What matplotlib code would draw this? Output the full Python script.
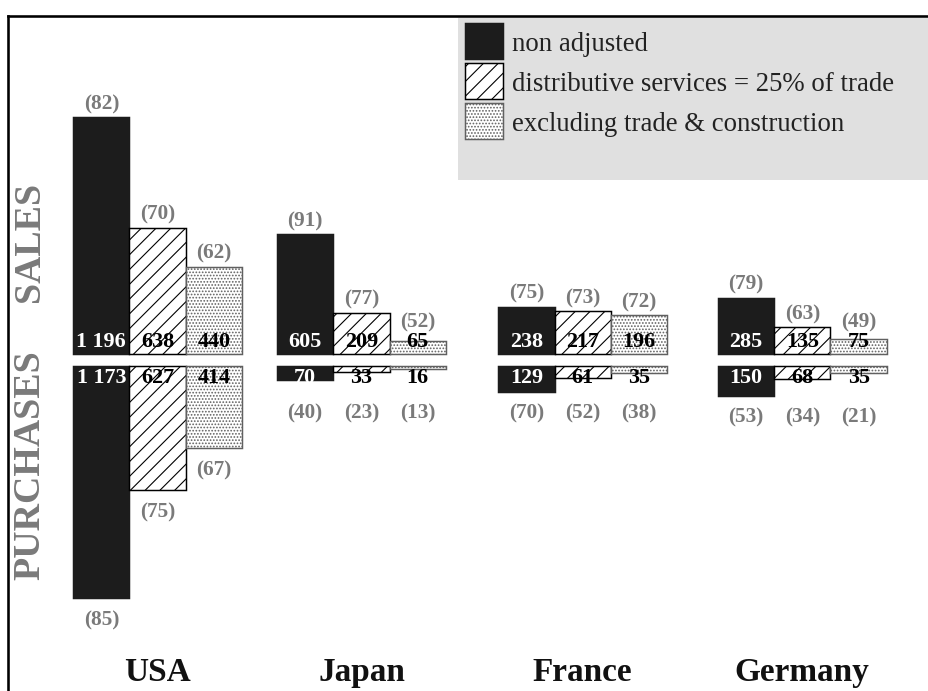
import numpy as np
import matplotlib.pyplot as plt
from matplotlib.lines import Line2D
from matplotlib.patches import Rectangle

# values (sales above the axis, purchases below)
countries = ['USA', 'Japan', 'France', 'Germany']
series = ['non adjusted', 'distributive services = 25% of trade',
          'excluding trade & construction']

sales = [[1196, 638, 440],
         [605, 209, 65],
         [238, 217, 196],
         [285, 135, 75]]
sales_pct = [[82, 70, 62],
             [91, 77, 52],
             [75, 73, 72],
             [79, 63, 49]]
purchases = [[1173, 627, 414],
             [70, 33, 16],
             [129, 61, 35],
             [150, 68, 35]]
purchases_pct = [[85, 75, 67],
                 [40, 23, 13],
                 [70, 52, 38],
                 [53, 34, 21]]

# layout
DPI = 133
W, H = 928, 691
PX = 0.1982                     # pixels per unit of value
gap = 30                        # half gap between the two rows (value units)
group_x = [2.80, 6.42, 10.35, 14.25]
bar_w = 1.0

serif = 'Liberation Serif'
pct_color = '#7a7a7a'
black = '#1c1c1c'

styles = [dict(facecolor=black, edgecolor=black, hatch=None),
          dict(facecolor='white', edgecolor='black', hatch='///'),
          dict(facecolor='white', edgecolor='#606060', hatch='.......')]

plt.rcParams['hatch.linewidth'] = 0.6

fig = plt.figure(figsize=(W / DPI, H / DPI), dpi=DPI)
ax = fig.add_axes([0, 0, 1, 1])
ax.set_xlim(0, W / 56.3)
ax.set_ylim(-(H - 360) / PX, 360 / PX)
ax.axis('off')

for g, cx in enumerate(group_x):
    floor = max(131, max(purchases[g]))
    for k in range(3):
        x = cx + (k - 1) * bar_w
        st = styles[k]
        ax.bar(x, sales[g][k], bottom=gap, width=bar_w, linewidth=0.8, **st)
        ax.bar(x, -purchases[g][k], bottom=-gap, width=bar_w, linewidth=0.8, **st)

        txt_col = 'white' if k == 0 else 'black'
        ax.text(x, gap + 7 / PX, f'{sales[g][k]:,}'.replace(',', ' '),
                ha='center', va='baseline', fontsize=12, fontweight='bold',
                family=serif, color=txt_col)
        ax.text(x, -gap - 17 / PX, f'{purchases[g][k]:,}'.replace(',', ' '),
                ha='center', va='baseline', fontsize=12, fontweight='bold',
                family=serif, color=txt_col)

        # percentage labels, kept clear of the value text
        y_top = max(gap + sales[g][k] + 8 / PX, gap + 27 / PX)
        ax.text(x, y_top, f'({sales_pct[g][k]})',
                ha='center', va='baseline', fontsize=11.5, fontweight='bold',
                family=serif, color=pct_color)
        depth = purchases[g][k] if purchases[g][k] > 300 else floor
        ax.text(x, -gap - depth - 27 / PX, f'({purchases_pct[g][k]})',
                ha='center', va='baseline', fontsize=11.5, fontweight='bold',
                family=serif, color=pct_color)

    ax.text(cx, -(681 - 360) / PX, countries[g], ha='center', va='baseline',
            fontsize=18, fontweight='bold', family=serif, color='#111111')

# row titles
ax.text(30 / 56.3, (360 - 242) / PX, 'SALES', rotation=90, ha='center',
        va='center', fontsize=20.5, fontweight='bold', family=serif,
        color=pct_color)
ax.text(30 / 56.3, (360 - 465) / PX, 'PURCHASES', rotation=90, ha='center',
        va='center', fontsize=20.5, fontweight='bold', family=serif,
        color=pct_color)

# legend: grey panel with swatches and labels
fig.patches.append(Rectangle((458 / W, 1 - 180 / H), 1 - 458 / W, 162 / H,
                             transform=fig.transFigure, facecolor='#e0e0e0',
                             edgecolor='none', zorder=0))
for i, (label, st) in enumerate(zip(series, styles)):
    top = 23 + 40 * i
    fig.patches.append(Rectangle((465 / W, 1 - (top + 36) / H), 38 / W, 36 / H,
                                 transform=fig.transFigure, linewidth=0.8,
                                 zorder=1, **st))
    fig.text(512 / W, 1 - (top + 28) / H, label, ha='left', va='baseline',
             fontsize=14.5, family=serif, color='#222222')

# frame
fig.add_artist(Line2D([8 / W, 8 / W], [0, 1 - 16 / H], color='black', lw=1.4))
fig.add_artist(Line2D([8 / W, 1], [1 - 16 / H, 1 - 16 / H], color='black', lw=1.4))

fig.savefig('out.png', dpi=DPI)
